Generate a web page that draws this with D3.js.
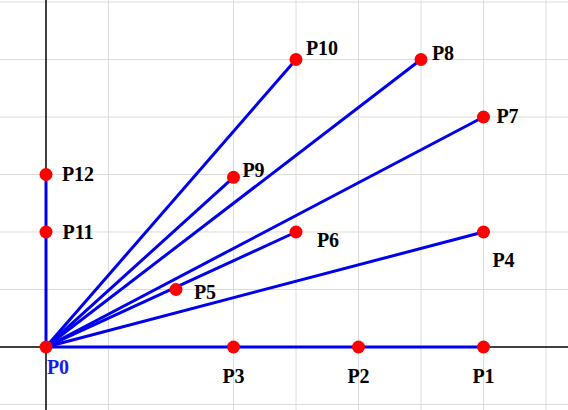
<!DOCTYPE html>
<html><head><meta charset="utf-8">
<script src="https://cdn.jsdelivr.net/npm/d3@7"></script>
<style>body{margin:0;background:#fff;overflow:hidden}
text.lbl{font-family:'Liberation Serif','Times New Roman','DejaVu Serif',serif;font-weight:bold;font-size:20px}</style>
</head><body>
<script>
const names = ['P0','P1','P2','P3','P4','P5','P6','P7','P8','P9','P10','P11','P12']
const xs = [0,7,5,3,7,2.08,4,7,6,3,4,0,0]
const ys = [0,0,0,0,2,1,2,4,5,2.95,5,2,3]
const segmentEnds = ['P1','P4','P6','P7','P8','P9','P10','P12']
const gridX = [-1,1,3,4,5,6,7,8]
const gridY = [-1,1,2,3,4,5,6]

const width = 568, height = 410
const x = d3.scaleLinear().domain([-0.736, 8.352]).range([0, width])
const y = d3.scaleLinear().domain([-1.096, 6.035]).range([height, 0])

const pts = names.map((n, i) => ({name: n, x: xs[i], y: ys[i]}))
const byName = Object.fromEntries(pts.map(p => [p.name, p]))

// label offsets
const off = {P0:[12,27],P1:[0,36],P2:[0,36],P3:[0,36],P4:[20,35],P5:[29,10],P6:[32,15],
    P7:[24,6],P8:[22,0],P9:[20,0],P10:[26,-5],P11:[32,7],P12:[32,7]}

const svg = d3.select('body').append('svg').attr('width', width).attr('height', height)

svg.append('g').selectAll('line').data(gridX).enter().append('line')
    .attr('x1', d => x(d)).attr('x2', d => x(d)).attr('y1', 0).attr('y2', height)
    .attr('stroke', '#dcdcdc').attr('stroke-width', 1)
svg.append('g').selectAll('line').data(gridY).enter().append('line')
    .attr('y1', d => y(d)).attr('y2', d => y(d)).attr('x1', 0).attr('x2', width)
    .attr('stroke', '#dcdcdc').attr('stroke-width', 1)

svg.append('line').attr('x1', x(0)).attr('x2', x(0)).attr('y1', 0).attr('y2', height)
    .attr('stroke', '#000').attr('stroke-width', 1.5)
svg.append('line').attr('y1', y(0)).attr('y2', y(0)).attr('x1', 0).attr('x2', width)
    .attr('stroke', '#000').attr('stroke-width', 1.5)

svg.append('g').selectAll('line').data(segmentEnds).enter().append('line')
    .attr('x1', x(0)).attr('y1', y(0))
    .attr('x2', d => x(byName[d].x)).attr('y2', d => y(byName[d].y))
    .attr('stroke', '#0000ee').attr('stroke-width', 3)

svg.append('g').selectAll('circle').data(pts).enter().append('circle')
    .attr('cx', d => x(d.x)).attr('cy', d => y(d.y)).attr('r', 6.5)
    .attr('fill', '#ff0000')

svg.append('g').selectAll('text').data(pts).enter().append('text')
    .attr('class', 'lbl')
    .attr('x', d => x(d.x) + off[d.name][0]).attr('y', d => y(d.y) + off[d.name][1])
    .attr('text-anchor', 'middle')
    .attr('fill', d => d.name === 'P0' ? '#1a1aee' : '#000')
    .text(d => d.name)
</script>
</body></html>
